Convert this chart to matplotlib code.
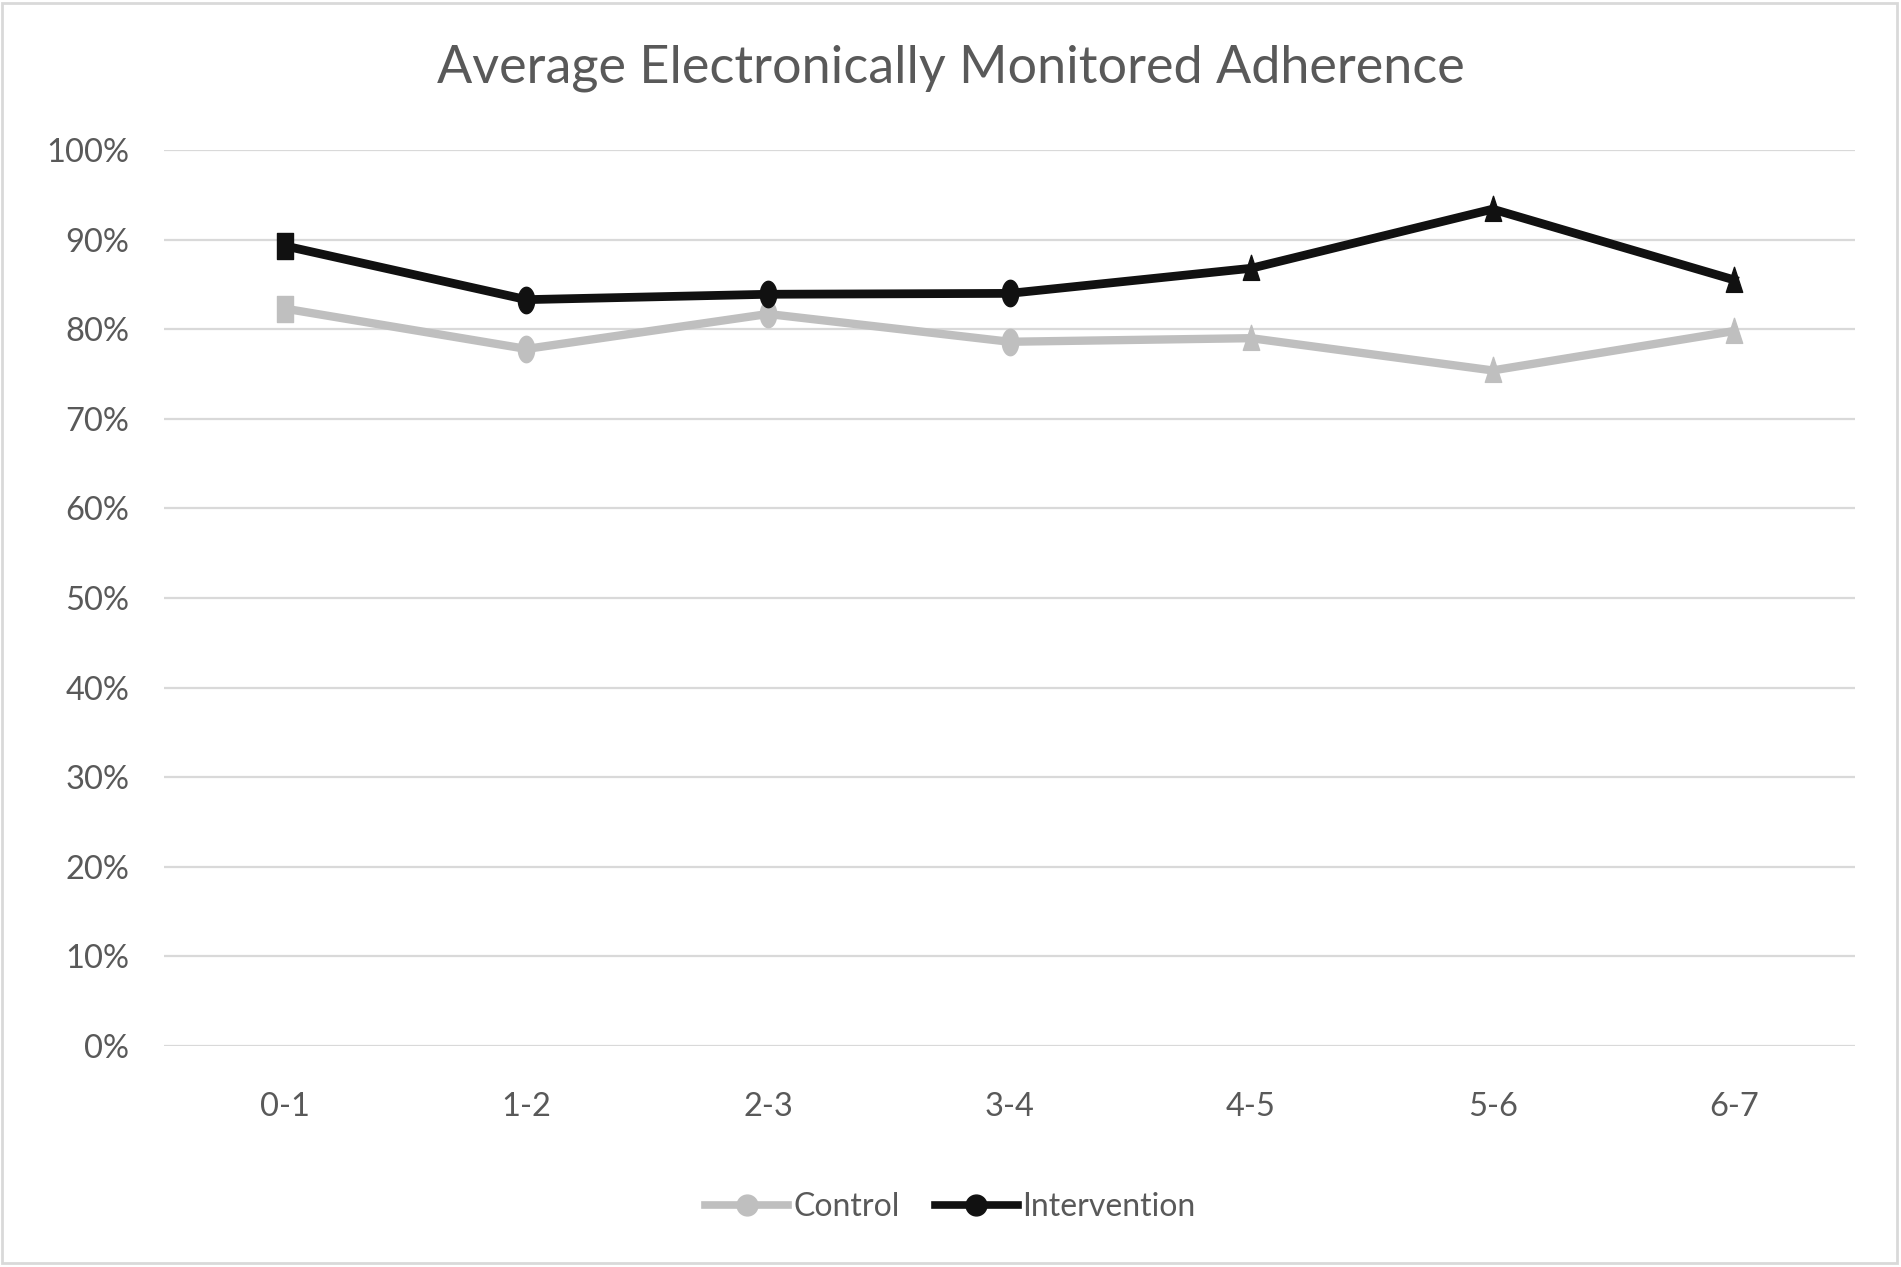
import numpy as np
import matplotlib
matplotlib.use('Agg')
from matplotlib import pyplot as plt
from matplotlib.path import Path
from matplotlib.lines import Line2D
from matplotlib.patches import Rectangle

plt.rcParams['font.family'] = ['Lato', 'DejaVu Sans']

# data
weeks = ['0-1', '1-2', '2-3', '3-4', '4-5', '5-6', '6-7']
control = [0.823, 0.778, 0.817, 0.786, 0.790, 0.754, 0.798]
intervention = [0.893, 0.833, 0.839, 0.840, 0.868, 0.934, 0.855]
# per-point marker kind, as in the source sheet
point_kind = ['s', 'o', 'o', 'o', '^', '^', '^']

TEXT = '#595959'
GRID = '#D9D9D9'
CTRL = '#BFBFBF'
INTV = '#111111'


def tall(kind):
  # markers in the picture are stretched vertically
  w = 0.31
  if kind == 's':
    verts = [(-w, -0.5), (w, -0.5), (w, 0.5), (-w, 0.5), (-w, -0.5)]
    return Path(verts, closed=True)
  if kind == '^':
    verts = [(-w, -0.45), (w, -0.45), (0, 0.5), (-w, -0.45)]
    return Path(verts, closed=True)
  t = np.linspace(0, 2 * np.pi, 60)
  return Path(np.column_stack([w * np.cos(t), 0.5 * np.sin(t)]), closed=True)


fig = plt.figure(figsize=(19.01, 12.67), dpi=100)
ax = fig.add_axes([0.0863, 0.1744, 0.8895, 0.7072])

x = np.arange(len(weeks))
for vals, col, lw in [(control, CTRL, 6.0), (intervention, INTV, 6.3)]:
  ax.plot(x, vals, color=col, lw=lw, solid_joinstyle='round', zorder=3)
  for i, v in enumerate(vals):
    ax.plot(x[i], v, marker=tall(point_kind[i]), ms=19, color=col,
            mec=col, ls='none', zorder=4)

ax.set_xlim(-0.5, len(weeks) - 0.5)
ax.set_ylim(0, 1.0)
ax.set_yticks(np.arange(0, 1.01, 0.1))
ax.set_yticklabels(['%d%%' % round(v * 100) for v in np.arange(0, 1.01, 0.1)])
ax.set_xticks(x)
ax.set_xticklabels(weeks)
ax.tick_params(length=0, colors=TEXT, labelsize=23.5)
ax.tick_params(axis='y', pad=25)
ax.tick_params(axis='x', pad=33)
ax.grid(axis='y', color=GRID, lw=1.6)
ax.set_axisbelow(True)
for s in ax.spines.values():
  s.set_visible(False)

fig.text(0.5, 0.946, 'Average Electronically Monitored Adherence',
         ha='center', va='center', fontsize=37.5, color=TEXT)

handles = [Line2D([], [], color=CTRL, lw=5.5, marker='o', ms=15),
           Line2D([], [], color=INTV, lw=5.5, marker='o', ms=15)]
fig.legend(handles, ['Control', 'Intervention'], loc='center',
           bbox_to_anchor=(0.5, 0.047), ncol=2, frameon=False, fontsize=23,
           labelcolor=TEXT, handlelength=2.6, handletextpad=0.15,
           columnspacing=1.1)

fig.patches.append(Rectangle((0.001, 0.003), 0.997, 0.995,
                             transform=fig.transFigure, fill=False,
                             ec=GRID, lw=2))

fig.savefig('out.png', dpi=100, facecolor='white')
